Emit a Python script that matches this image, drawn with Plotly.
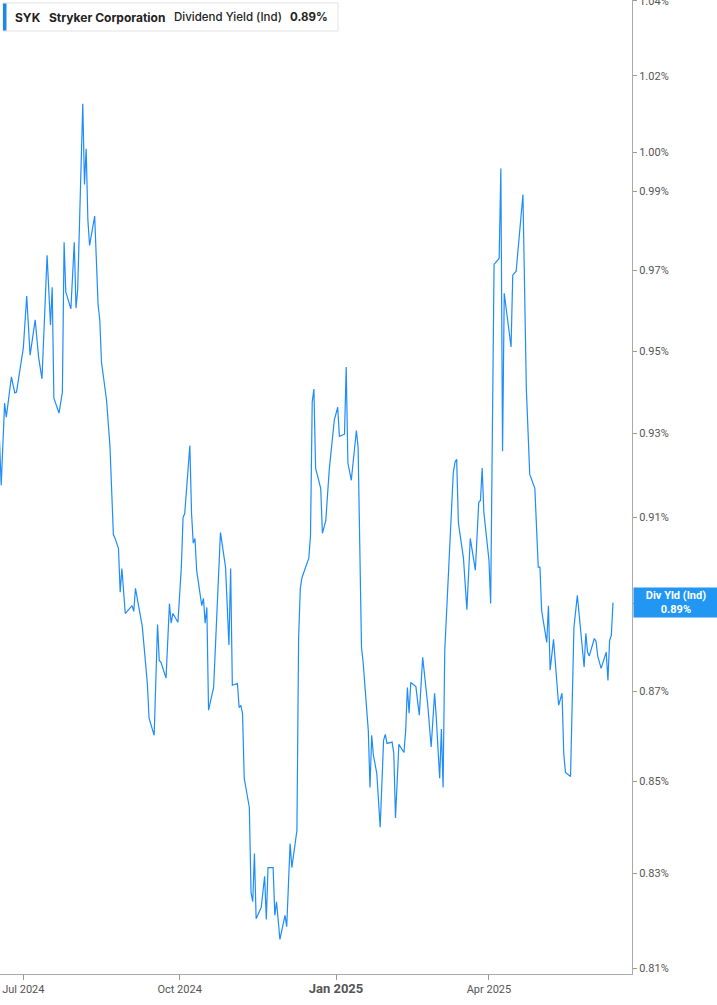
import math
import plotly.graph_objects as go

# ---- data ----
dates = [
    "2024-06-17", "2024-06-18", "2024-06-20", "2024-06-21", "2024-06-24", "2024-06-26", "2024-06-27",
    "2024-07-01", "2024-07-03", "2024-07-05", "2024-07-08", "2024-07-10", "2024-07-12", "2024-07-15",
    "2024-07-17", "2024-07-18", "2024-07-19", "2024-07-22", "2024-07-24", "2024-07-25", "2024-07-26",
    "2024-07-29", "2024-07-31", "2024-08-01", "2024-08-02", "2024-08-05", "2024-08-06", "2024-08-07",
    "2024-08-08", "2024-08-09", "2024-08-12", "2024-08-14", "2024-08-15", "2024-08-16", "2024-08-19",
    "2024-08-21", "2024-08-23", "2024-08-24", "2024-08-26", "2024-08-27", "2024-08-28", "2024-08-30",
    "2024-09-03", "2024-09-04", "2024-09-05", "2024-09-09", "2024-09-12", "2024-09-13", "2024-09-16",
    "2024-09-18", "2024-09-19", "2024-09-20", "2024-09-23", "2024-09-25", "2024-09-26", "2024-09-27",
    "2024-09-30", "2024-10-02", "2024-10-03", "2024-10-04", "2024-10-07", "2024-10-08", "2024-10-09",
    "2024-10-10", "2024-10-11", "2024-10-14", "2024-10-15", "2024-10-16", "2024-10-17", "2024-10-18",
    "2024-10-21", "2024-10-25", "2024-10-28", "2024-10-30", "2024-10-31", "2024-11-01", "2024-11-04",
    "2024-11-05", "2024-11-06", "2024-11-07", "2024-11-08", "2024-11-11", "2024-11-12", "2024-11-13",
    "2024-11-14", "2024-11-15", "2024-11-18", "2024-11-20", "2024-11-21", "2024-11-22", "2024-11-25",
    "2024-11-26", "2024-11-27", "2024-11-29", "2024-12-02", "2024-12-03", "2024-12-05", "2024-12-06",
    "2024-12-09", "2024-12-10", "2024-12-11", "2024-12-12", "2024-12-16", "2024-12-17", "2024-12-18",
    "2024-12-19", "2024-12-20", "2024-12-23", "2024-12-24", "2024-12-26", "2024-12-28", "2024-12-31",
    "2025-01-02", "2025-01-03", "2025-01-06", "2025-01-07", "2025-01-08", "2025-01-10", "2025-01-13",
    "2025-01-14", "2025-01-16", "2025-01-17", "2025-01-20", "2025-01-21", "2025-01-22", "2025-01-23",
    "2025-01-25", "2025-01-27", "2025-01-29", "2025-01-30", "2025-01-31", "2025-02-03", "2025-02-04",
    "2025-02-05", "2025-02-07", "2025-02-10", "2025-02-11", "2025-02-12", "2025-02-13", "2025-02-14",
    "2025-02-17", "2025-02-19", "2025-02-21", "2025-02-24", "2025-02-26", "2025-02-28", "2025-03-01",
    "2025-03-03", "2025-03-04", "2025-03-05", "2025-03-06", "2025-03-08", "2025-03-11", "2025-03-12",
    "2025-03-13", "2025-03-14", "2025-03-17", "2025-03-19", "2025-03-21", "2025-03-24", "2025-03-26",
    "2025-03-27", "2025-03-28", "2025-03-29", "2025-03-31", "2025-04-01", "2025-04-02", "2025-04-04",
    "2025-04-07", "2025-04-08", "2025-04-09", "2025-04-10", "2025-04-14", "2025-04-15", "2025-04-17",
    "2025-04-21", "2025-04-23", "2025-04-25", "2025-04-28", "2025-04-30", "2025-05-01", "2025-05-02",
    "2025-05-05", "2025-05-06", "2025-05-07", "2025-05-09", "2025-05-12", "2025-05-14", "2025-05-15",
    "2025-05-16", "2025-05-19", "2025-05-21", "2025-05-23", "2025-05-27", "2025-05-28", "2025-05-29",
    "2025-05-30", "2025-06-02", "2025-06-03", "2025-06-04", "2025-06-06", "2025-06-09", "2025-06-10",
    "2025-06-11", "2025-06-12", "2025-06-13",
]

div_yield = [
    0.9283, 0.9176, 0.9373, 0.9339, 0.9437, 0.9398, 0.9400,
    0.9507, 0.9636, 0.9490, 0.9577, 0.9485, 0.9432, 0.9738,
    0.9564, 0.9658, 0.9385, 0.9349, 0.9400, 0.9771, 0.9646,
    0.9604, 0.9771, 0.9606, 0.9651, 1.0127, 0.9918, 1.0010,
    0.9827, 0.9763, 0.9837, 0.9614, 0.9577, 0.9473, 0.9380,
    0.9269, 0.9060, 0.9051, 0.9028, 0.8926, 0.8981, 0.8877,
    0.8895, 0.8882, 0.8935, 0.8848, 0.8718, 0.8640, 0.8602,
    0.8852, 0.8770, 0.8766, 0.8730, 0.8900, 0.8855, 0.8877,
    0.8857, 0.8984, 0.9100, 0.9110, 0.9271, 0.9110, 0.9040,
    0.9051, 0.8977, 0.8895, 0.8912, 0.8855, 0.8891, 0.8658,
    0.8709, 0.9065, 0.8984, 0.8805, 0.8981, 0.8714, 0.8718,
    0.8664, 0.8669, 0.8651, 0.8507, 0.8443, 0.8260, 0.8240,
    0.8343, 0.8204, 0.8228, 0.8294, 0.8202, 0.8313, 0.8313,
    0.8211, 0.8240, 0.8160, 0.8211, 0.8187, 0.8365, 0.8313,
    0.8393, 0.8823, 0.8935, 0.8960, 0.9005, 0.9058, 0.9376,
    0.9407, 0.9217, 0.9169, 0.9063, 0.9093, 0.9212, 0.9332,
    0.9363, 0.9293, 0.9298, 0.9461, 0.9229, 0.9188, 0.9307,
    0.9267, 0.8800, 0.8764, 0.8613, 0.8487, 0.8602, 0.8558,
    0.8518, 0.8400, 0.8591, 0.8604, 0.8584, 0.8587, 0.8562,
    0.8420, 0.8582, 0.8564, 0.8613, 0.8709, 0.8651, 0.8720,
    0.8711, 0.8647, 0.8777, 0.8669, 0.8576, 0.8696, 0.8642,
    0.8507, 0.8616, 0.8487, 0.8793, 0.8947, 0.9205, 0.9231,
    0.9238, 0.9088, 0.9005, 0.8886, 0.9051, 0.8977, 0.9136,
    0.9140, 0.9217, 0.9112, 0.9026, 0.9000, 0.8900, 0.9715,
    0.9730, 0.9959, 0.9257, 0.9643, 0.9510, 0.9688, 0.9698,
    0.9892, 0.9407, 0.9202, 0.9169, 0.8984, 0.8984, 0.8884,
    0.8811, 0.8895, 0.8748, 0.8818, 0.8669, 0.8696, 0.8562,
    0.8520, 0.8511, 0.8845, 0.8919, 0.8755, 0.8832, 0.8789,
    0.8780, 0.8820, 0.8814, 0.8780, 0.8752, 0.8789, 0.8725,
    0.8816, 0.8827, 0.8902,
]

y_tick_values = [0.81, 0.83, 0.85, 0.87, 0.89, 0.91, 0.93, 0.95, 0.97, 0.99, 1.00, 1.02, 1.04]
y_tick_labels = [f"{v:.2f}%" for v in y_tick_values]
x_tick_dates = ["2024-07-01", "2024-10-01", "2025-01-01", "2025-04-01"]
x_tick_labels = ["Jul 2024", "Oct 2024",
                 "<b><span style='font-size:13px'>Jan 2025</span></b>", "Apr 2025"]

ticker = "SYK"
company = "Stryker Corporation"
metric = "Dividend Yield (Ind)"
last_value_label = "0.89%"

# ---- layout geometry ----
W, H = 717, 1005
ML, MR, MT, MB = 0, 85, 0, 31
PW, PH = W - ML - MR, H - MT - MB


def px(x):
    return x / PW


def py(y):
    return 1 - y / PH


LINE_BLUE = "#1E8CFA"
LABEL_BLUE = "#2196F3"
FONT = "Roboto"
HEAD_FONT = "Inter"

fig = go.Figure()
fig.add_trace(go.Scatter(
    x=dates, y=div_yield, mode="lines",
    line=dict(color=LINE_BLUE, width=1.2),
    hoverinfo="skip", showlegend=False,
))

fig.update_layout(
    width=W, height=H,
    margin=dict(l=ML, r=MR, t=MT, b=MB, pad=0, autoexpand=False),
    paper_bgcolor="white", plot_bgcolor="white",
    font=dict(family=FONT, color="#555"),
    showlegend=False,
)

fig.update_xaxes(
    type="date",
    range=["2024-06-17 07:00", "2025-06-24 04:00"],
    tickmode="array", tickvals=x_tick_dates, ticktext=x_tick_labels,
    ticks="outside", ticklen=5, tickcolor="#999", tickwidth=1,
    showline=True, linecolor="#aaa", linewidth=1,
    showgrid=False, zeroline=False, automargin=False,
    tickfont=dict(size=11, color="#555", family=FONT),
)

fig.update_yaxes(
    type="log", side="right",
    range=[math.log10(0.80875), math.log10(1.0402)],
    tickmode="array", tickvals=y_tick_values, ticktext=y_tick_labels,
    ticks="outside", ticklen=4, tickcolor="#999", tickwidth=1,
    ticklabeloverflow="allow", automargin=False,
    showline=True, linecolor="#aaa", linewidth=1,
    showgrid=False, zeroline=False,
    tickfont=dict(size=11, color="#555", family=FONT),
)

shapes = [
    dict(type="rect", xref="paper", yref="paper",
         x0=px(3), x1=px(338), y0=py(31), y1=py(3),
         line=dict(color="#e2e2e2", width=1), fillcolor="white", layer="above"),
    dict(type="rect", xref="paper", yref="paper",
         x0=px(3), x1=px(6.5), y0=py(30.5), y1=py(3.5),
         line=dict(width=0), fillcolor="#1E88E5", layer="above"),
]

anns = []
header_y = py(17)
for x_px, txt, bold, size in [(13, ticker, True, 12), (47, company, True, 12),
                              (172, metric, False, 11.5), (288, last_value_label, True, 11.5)]:
    anns.append(dict(
        xref="paper", yref="paper", x=px(x_px), y=header_y,
        xanchor="left", yanchor="middle", showarrow=False,
        text=f"<b>{txt}</b>" if bold else txt,
        font=dict(size=size, color="#222", family=HEAD_FONT,
                  weight=None if bold else 500),
    ))

anns.append(dict(
    xref="paper", yref="paper", x=px(633), y=py(602.5),
    xanchor="left", yanchor="middle", showarrow=False,
    width=84, height=29, borderpad=0, bgcolor=LABEL_BLUE,
    text=f"<b>Div Yld (Ind)</b><br><b>{last_value_label}</b>",
    font=dict(size=11, color="white", family=FONT), align="center",
))

fig.update_layout(shapes=shapes, annotations=anns)

fig.write_html("out.html",
               config={"displayModeBar": False},
               post_script="document.body.style.margin='0';document.body.style.padding='0';")
